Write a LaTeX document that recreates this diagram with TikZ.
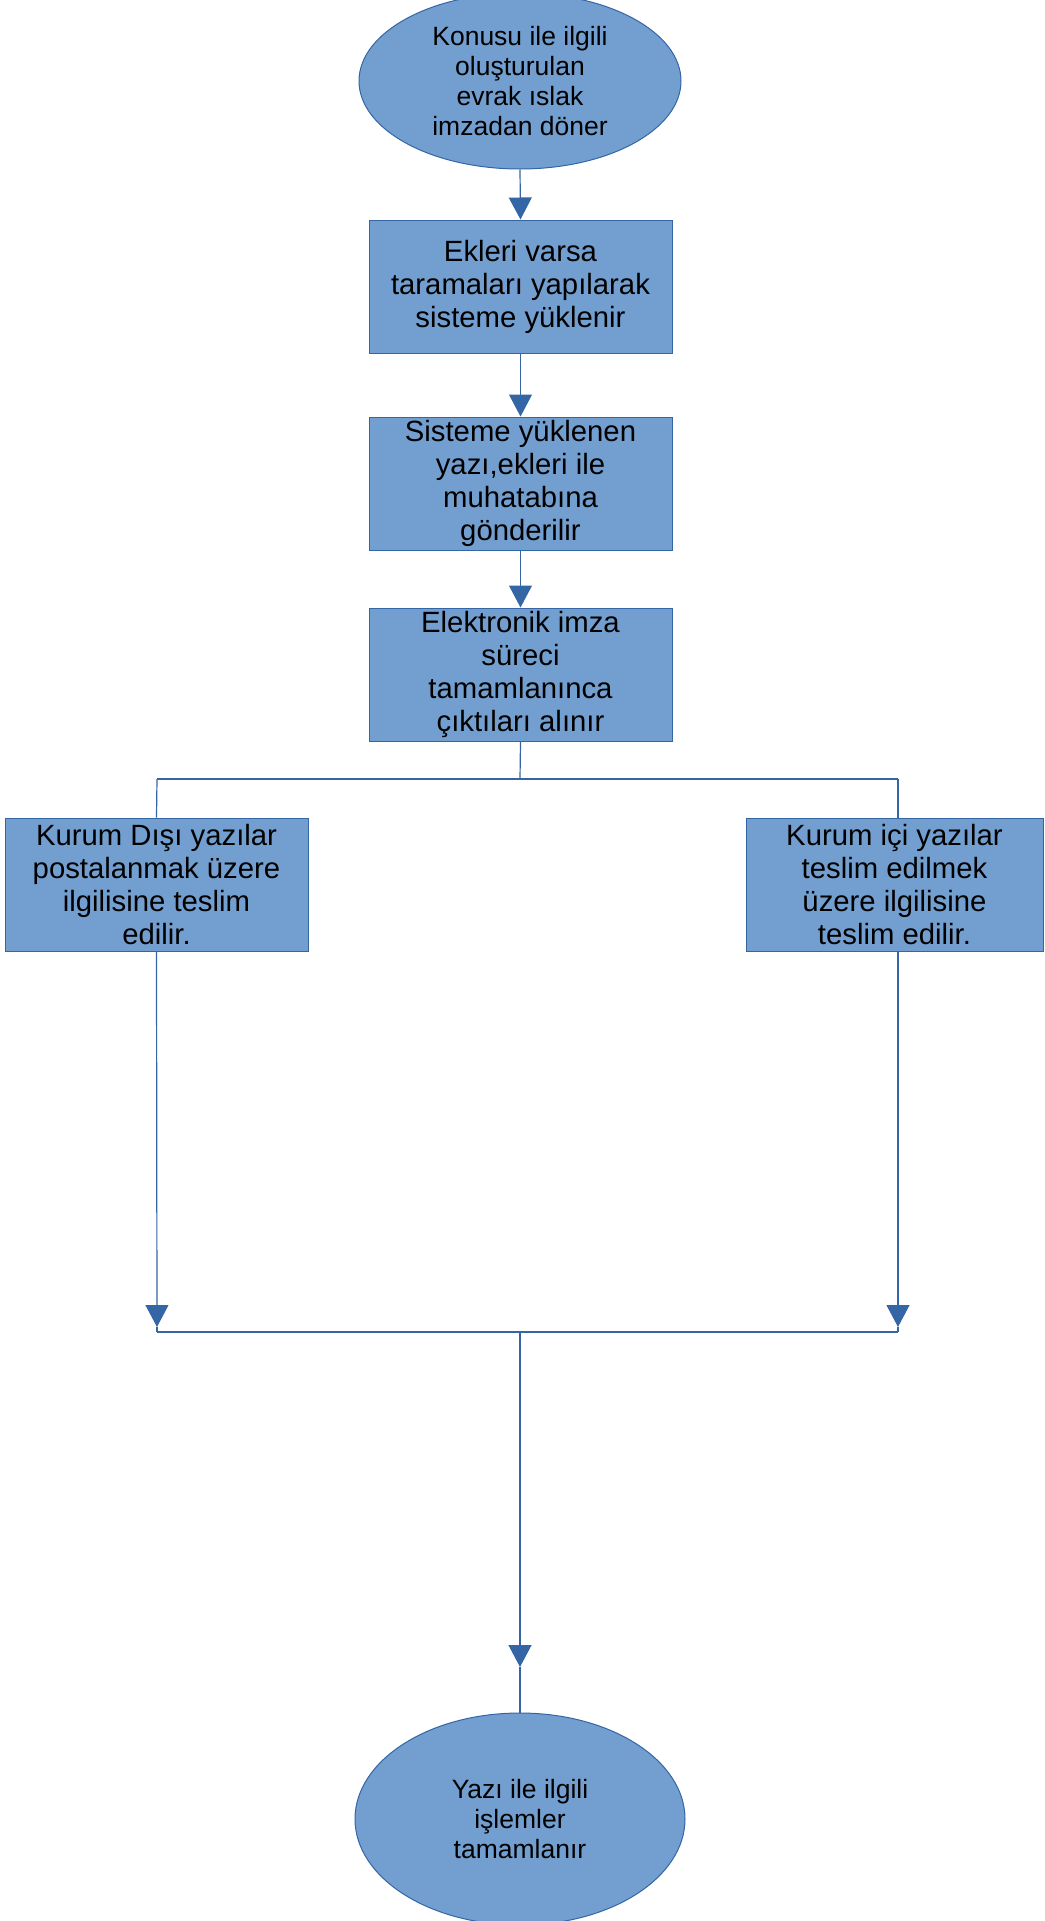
\documentclass[tikz,border=0pt]{standalone}
\usepackage{fontspec}
\setmainfont{Liberation Sans}
\usetikzlibrary{shapes.geometric,arrows.meta,calc}
\definecolor{boxfill}{HTML}{729FCF}
\definecolor{boxline}{HTML}{3465A4}
\begin{document}
\begin{tikzpicture}[x=1pt,y=-1pt,
  ov/.style={ellipse,draw=boxline,fill=boxfill,line width=1pt,inner sep=0pt,align=center,
    font=\fontsize{26.5}{29.8}\selectfont},
  stepbox/.style={rectangle,draw=boxline,fill=boxfill,line width=1pt,inner sep=0pt,align=center,
    minimum width=303pt,minimum height=133pt,font=\fontsize{29.3}{33}\selectfont},
  conn/.style={draw=boxline,line width=1.2pt},
  tip/.style={conn,-{Triangle[length=22pt,width=23pt]}}]
\useasboundingbox (0,0) rectangle (1044,1921);
\clip (0,0) rectangle (1044,1921);
\node[ov,minimum width=322pt,minimum height=176pt] (e1) at (520,81)
  {Konusu ile ilgili\\oluşturulan\\evrak ıslak\\imzadan döner};
\node[stepbox] (b1) at (520.5,286.5) {Ekleri varsa\\taramaları yapılarak\\sisteme yüklenir};
\node[stepbox] (b2) at (520.5,483.5) {Sisteme yüklenen\\yazı,ekleri ile\\muhatabına\\gönderilir};
\node[stepbox] (b3) at (520.5,674.5) {Elektronik imza\\süreci\\tamamlanınca\\çıktıları alınır};
\node[stepbox] (l) at (156.5,884.5) {Kurum Dışı yazılar\\postalanmak üzere\\ilgilisine teslim\\edilir.};
\node[stepbox,minimum width=297pt] (r) at (894.5,884.5) {Kurum içi yazılar\\teslim edilmek\\üzere ilgilisine\\teslim edilir.};
\node[ov,minimum width=330pt,minimum height=212pt] (e2) at (520,1819)
  {Yazı ile ilgili\\işlemler\\tamamlanır};
\coordinate (split) at (520,779);
\coordinate (sL) at (157,779);
\coordinate (sR) at (898,779);
\coordinate (mL) at (157,1332);
\coordinate (mR) at (898,1332);
\coordinate (mC) at (520,1332);
\coordinate (aL) at (157,1327);
\coordinate (aR) at (898,1327);
\coordinate (aC) at (520,1667);
\draw[tip] (e1.south) -- (b1.north);
\draw[tip] (b1.south) -- (b2.north);
\draw[tip] (b2.south) -- (b3.north);
\draw[conn] (b3.south) -- (split);
\draw[conn] (sL) -- (sR);
\draw[conn] (sL) -- (l.north);
\draw[conn] (sR) -- (r.north -| sR);
\draw[tip] (l.south) -- (aL);
\draw[conn] (aL) -- (mL);
\draw[tip] (r.south -| sR) -- (aR);
\draw[conn] (aR) -- (mR);
\draw[conn] (mL) -- (mR);
\draw[tip] (mC) -- (aC);
\draw[conn] (aC) -- (e2.north);
\end{tikzpicture}
\end{document}
